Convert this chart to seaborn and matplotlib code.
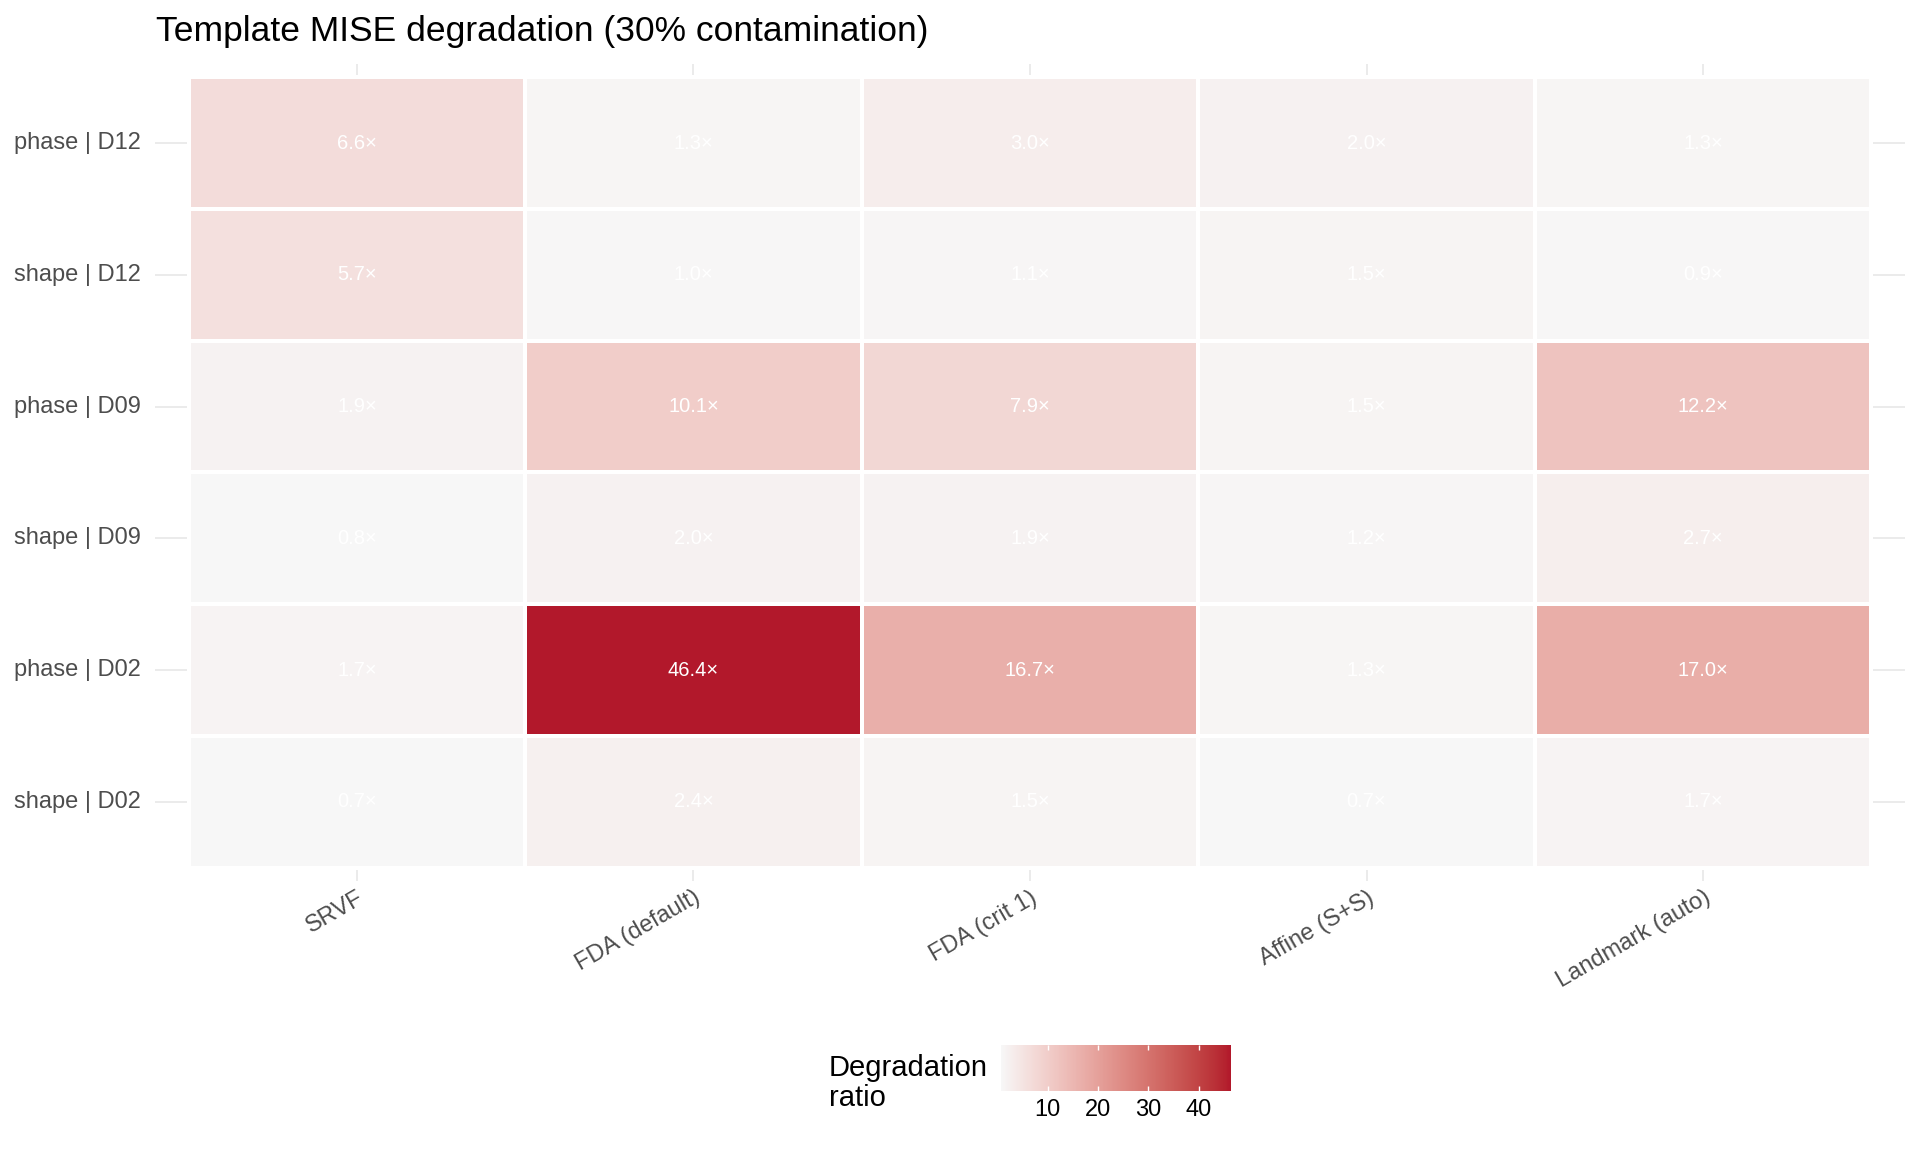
import numpy as np
import pandas as pd
import matplotlib
matplotlib.use('Agg')
import matplotlib.pyplot as plt
import seaborn as sns
from matplotlib.colors import ListedColormap, to_rgb

# Data: template MISE degradation ratio per method
methods = ['SRVF', 'FDA (default)', 'FDA (crit 1)', 'Affine (S+S)', 'Landmark (auto)']
rows = ['phase | D12', 'shape | D12', 'phase | D09', 'shape | D09', 'phase | D02', 'shape | D02']
phase_d12 = [6.6, 1.3, 3.0, 2.0, 1.3]
shape_d12 = [5.7, 1.0, 1.1, 1.5, 0.9]
phase_d09 = [1.9, 10.1, 7.9, 1.5, 12.2]
shape_d09 = [0.8, 2.0, 1.9, 1.2, 2.7]
phase_d02 = [1.7, 46.4, 16.7, 1.3, 17.0]
shape_d02 = [0.7, 2.4, 1.5, 0.7, 1.7]

df = pd.DataFrame([phase_d12, shape_d12, phase_d09, shape_d09, phase_d02, shape_d02],
                  index=rows, columns=methods)
labels = df.map(lambda v: f'{v:.1f}\u00d7')

# Lab gradient (like ggplot's scale_fill_gradient)
M = np.array([[0.4124564, 0.3575761, 0.1804375],
              [0.2126729, 0.7151522, 0.0721750],
              [0.0193339, 0.1191920, 0.9503041]])
WHITE = np.array([0.95047, 1.0, 1.08883])


def to_lab(c):
    c = np.asarray(to_rgb(c))
    lin = np.where(c <= 0.04045, c / 12.92, ((c + 0.055) / 1.055) ** 2.4)
    xyz = M @ lin / WHITE
    f = np.where(xyz > (6 / 29) ** 3, np.cbrt(xyz), xyz / (3 * (6 / 29) ** 2) + 4 / 29)
    return np.array([116 * f[1] - 16, 500 * (f[0] - f[1]), 200 * (f[1] - f[2])])


def from_lab(lab):
    fy = (lab[0] + 16) / 116
    f = np.array([fy + lab[1] / 500, fy, fy - lab[2] / 200])
    xyz = np.where(f > 6 / 29, f ** 3, 3 * (6 / 29) ** 2 * (f - 4 / 29)) * WHITE
    lin = np.linalg.solve(M, xyz)
    c = np.where(lin <= 0.0031308, 12.92 * lin, 1.055 * np.clip(lin, 0, None) ** (1 / 2.4) - 0.055)
    return np.clip(c, 0, 1)


lo, hi = to_lab('#F7F7F7'), to_lab('#B2182B')
cmap = ListedColormap([from_lab(lo + t * (hi - lo)) for t in np.linspace(0, 1, 256)])

plt.rcParams['font.family'] = ['Liberation Sans', 'DejaVu Sans']

fig = plt.figure(figsize=(19.2, 11.52), dpi=100)
ax = fig.add_axes([155 / 1920, 1 - 881 / 1152, 1750 / 1920, 817 / 1152])
cax = fig.add_axes([1001 / 1920, 1 - 1091 / 1152, 230 / 1920, 46 / 1152])

sns.heatmap(df, ax=ax, cmap=cmap, vmin=df.min().min(), vmax=df.max().max(),
            annot=labels, fmt='', annot_kws=dict(color='white', fontsize=14.5),
            linewidths=1.6, linecolor='white', cbar_ax=cax,
            cbar_kws=dict(orientation='horizontal', ticks=[10, 20, 30, 40]))

# panel expansion with grid stubs like ggplot
ax.set_xlim(-0.1, len(methods) + 0.1)
ax.set_ylim(len(rows) + 0.1, -0.1)
ax.grid(True, color='#EBEBEB', linewidth=1.4)
ax.set_axisbelow(True)
for s in ax.spines.values():
    s.set_visible(False)
ax.set_xlabel('')
ax.set_ylabel('')
ax.tick_params(axis='both', length=0, labelsize=17, labelcolor='#4D4D4D')
ax.tick_params(axis='y', pad=10)
ax.tick_params(axis='x', pad=4)
plt.setp(ax.get_yticklabels(), rotation=0)
plt.setp(ax.get_xticklabels(), rotation=30, ha='right', rotation_mode='anchor')

fig.text(156 / 1920, 1 - 41 / 1152, 'Template MISE degradation (30% contamination)',
         fontsize=25.5, ha='left', va='baseline', color='black')

# colourbar styling
cbar = ax.collections[0].colorbar
cbar.outline.set_visible(False)
cax.tick_params(axis='x', direction='in', color='white', length=3.6, width=1,
                top=True, bottom=True, labelsize=17, labelcolor='black', pad=6)
fig.text(829 / 1920, 1 - 1054 / 1152, 'Degradation\nratio', fontsize=21,
         ha='left', va='top', linespacing=1.1, color='black')

fig.savefig('out.png', dpi=100)
